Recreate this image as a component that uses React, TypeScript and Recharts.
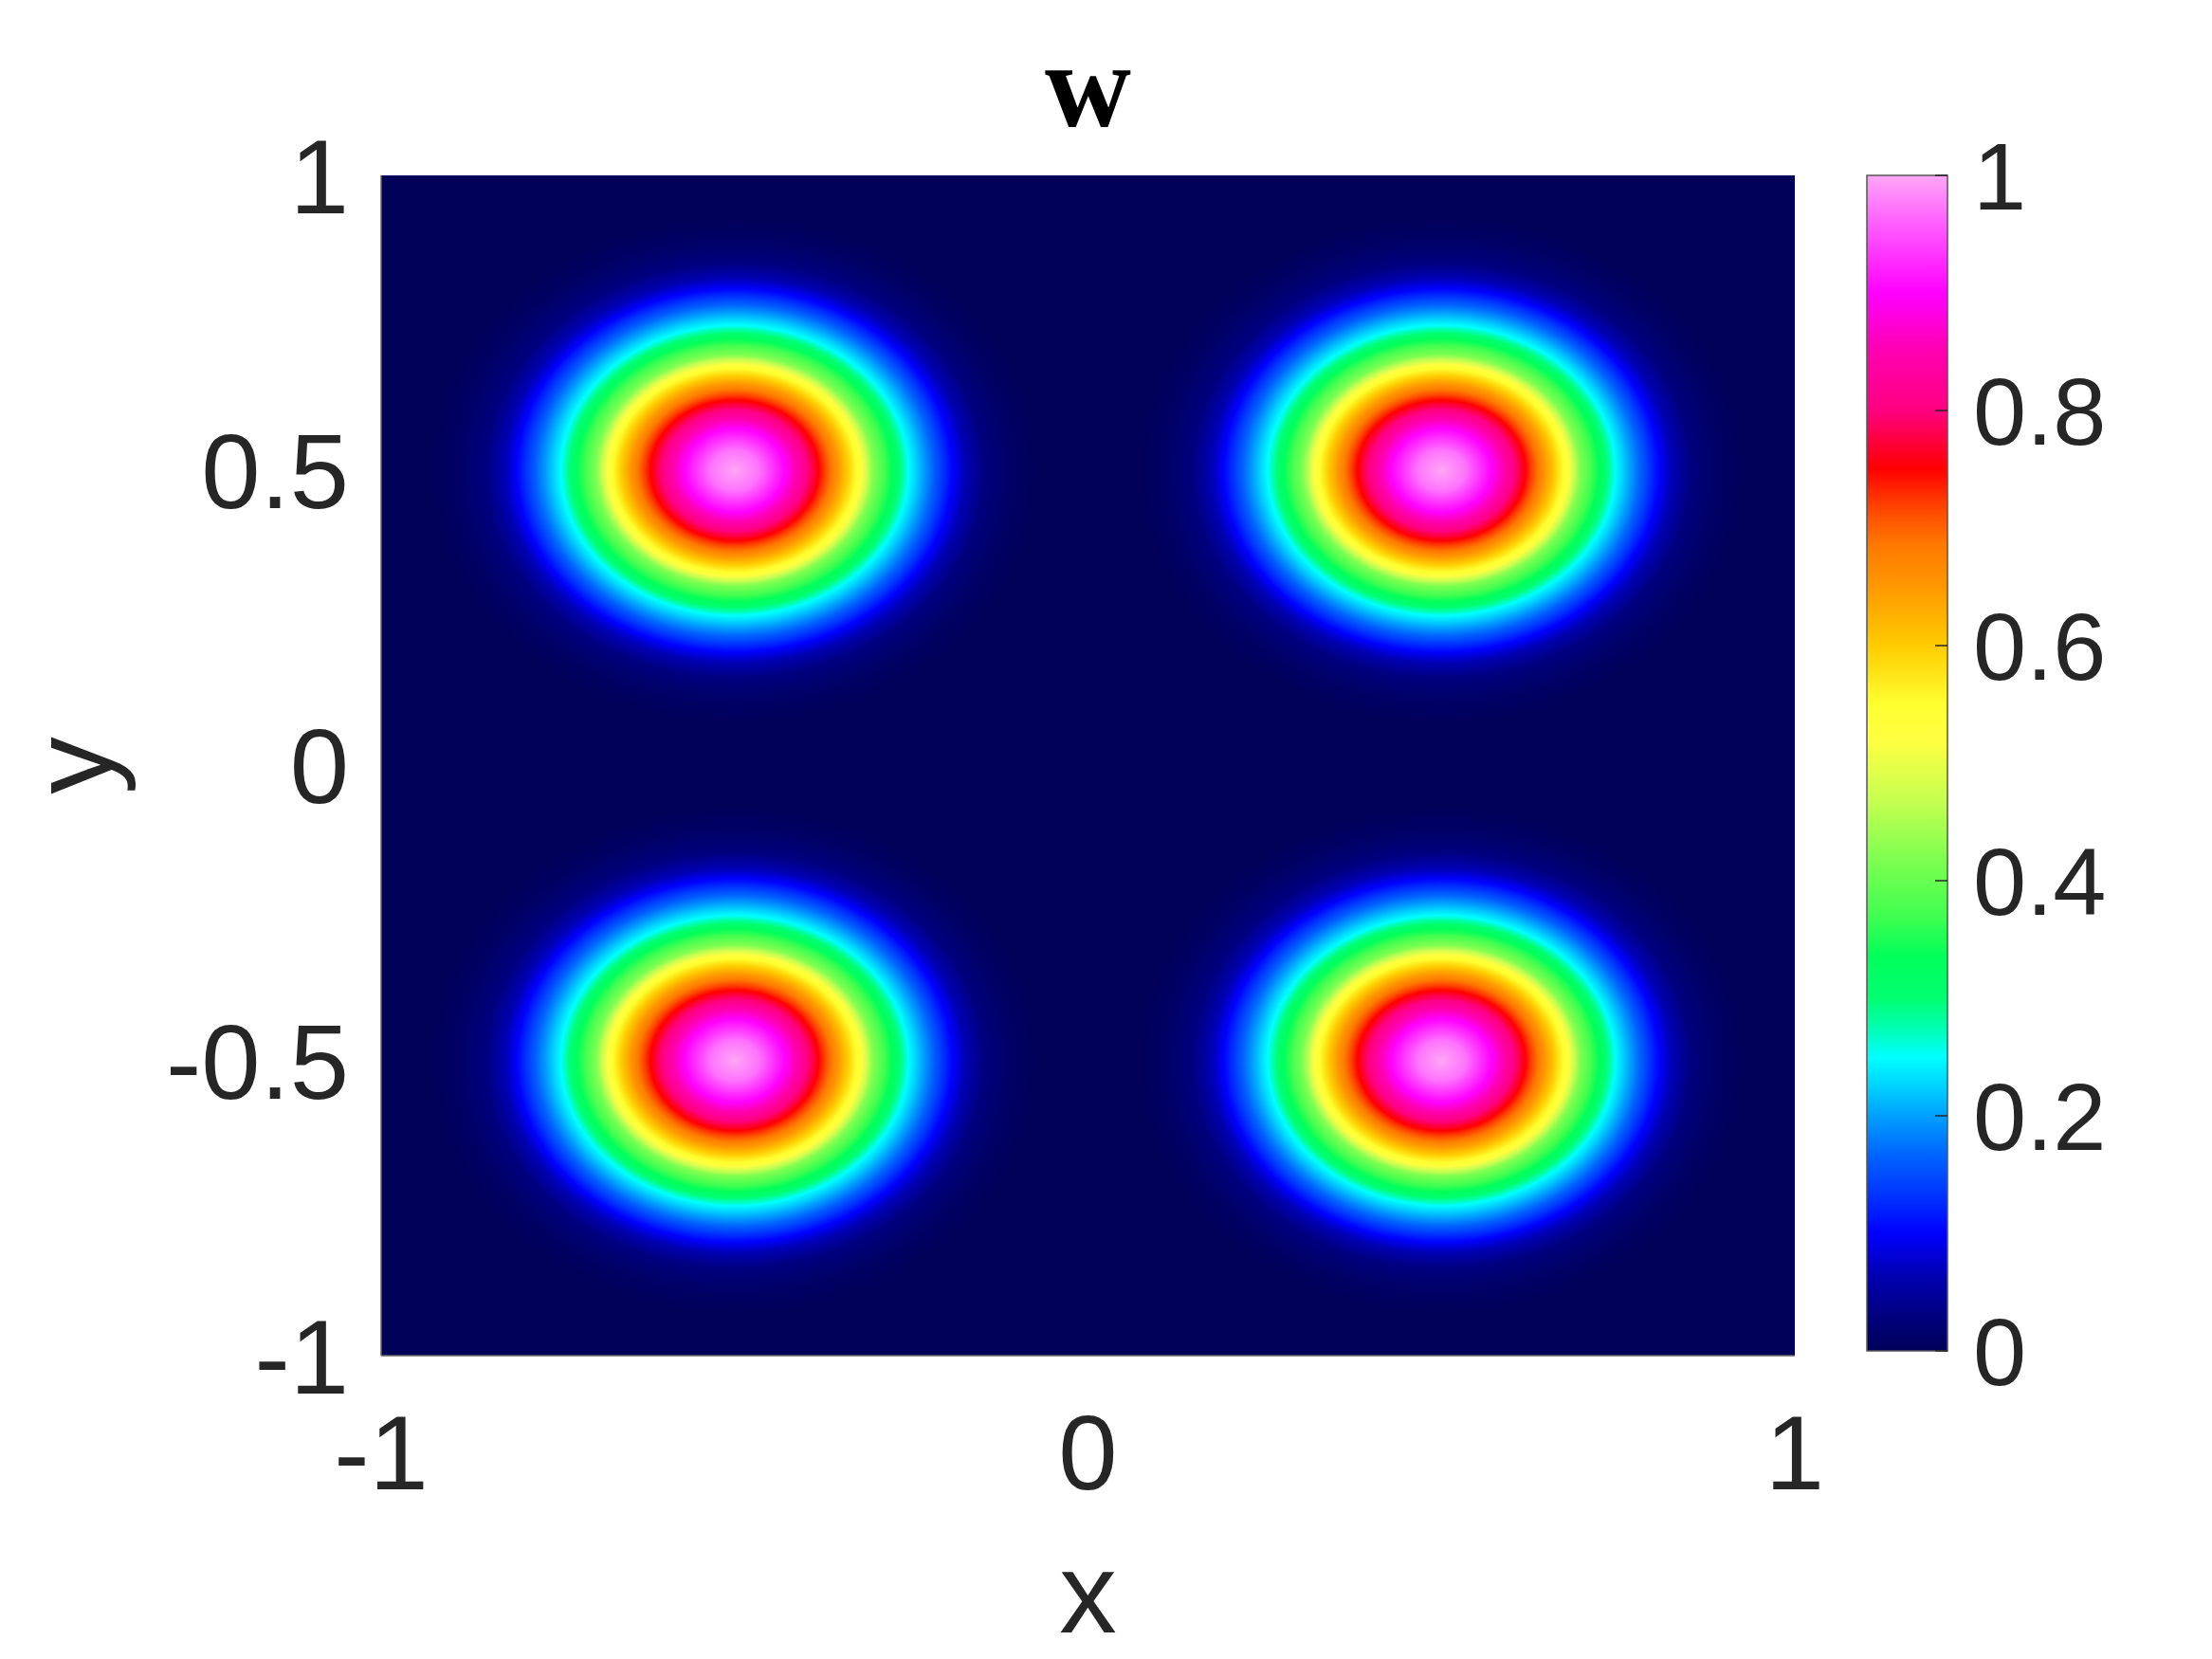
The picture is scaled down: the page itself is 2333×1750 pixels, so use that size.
import React from 'react';
import { ScatterChart, Scatter, XAxis, YAxis, ReferenceArea, BarChart, Bar } from 'recharts';

// ---- data ----
const xTicks = [-1, 0, 1];
const yTicks = [-1, -0.5, 0, 0.5, 1];
const cbarTicks = [0, 0.2, 0.4, 0.6, 0.8, 1];

// blob centres and peak values of w
const blobX = [-0.5, 0.5, -0.5, 0.5];
const blobY = [0.5, 0.5, -0.5, -0.5];
const blobPeak = [1, 1, 1, 1];

// radial profile of one blob (distance from centre in data units -> w / peak)
const profileR = [0, 0.035, 0.071, 0.097, 0.119, 0.147, 0.178, 0.196, 0.223, 0.246, 0.267, 0.281, 0.308, 0.326, 0.352, 0.39, 0.43];
const profileW = [1.0, 0.97, 0.9, 0.82, 0.75, 0.65, 0.53, 0.42, 0.335, 0.25, 0.2, 0.165, 0.1, 0.065, 0.03, 0.01, 0];

// colour scale (value -> colour)
const cmapV = [0, 0.03, 0.065, 0.1, 0.13, 0.165, 0.2, 0.225, 0.25, 0.275, 0.3, 0.335, 0.37, 0.42, 0.47, 0.52, 0.55, 0.6, 0.65, 0.685, 0.72, 0.75, 0.8, 0.85, 0.9, 0.96, 1];
const cmapC = ['#000059', '#000080', '#0000B4', '#0000FF', '#0030FF', '#0062FF', '#00A0FF', '#00D2FF', '#00FFFF', '#00FFB0', '#00FF70', '#00FF5A', '#40FF50', '#80FF50', '#C8FF50', '#FFFF40', '#FFFF30', '#FFCC00', '#FF9800', '#FF7A00', '#FF4000', '#FF0000', '#FF0080', '#FF00B0', '#FF00FF', '#FF60FF', '#FFA6F6'];

const cbarData = [{ name: 'w', top: 1 }];

// ---- helpers ----
const FONT = "'Liberation Sans', Arial, Helvetica, sans-serif";
const TXT = '#262626';
const RMAX = profileR[profileR.length - 1];

const hexToRgb = (h: string) => [parseInt(h.slice(1, 3), 16), parseInt(h.slice(3, 5), 16), parseInt(h.slice(5, 7), 16)];
function colorAt(v: number): string {
  if (v <= cmapV[0]) return cmapC[0];
  for (let i = 0; i < cmapV.length - 1; i++) {
    if (v <= cmapV[i + 1]) {
      const t = (v - cmapV[i]) / (cmapV[i + 1] - cmapV[i]);
      const a = hexToRgb(cmapC[i]);
      const b = hexToRgb(cmapC[i + 1]);
      const c = a.map((ai, k) => Math.round(ai + t * (b[k] - ai)));
      return `rgb(${c[0]},${c[1]},${c[2]})`;
    }
  }
  return cmapC[cmapC.length - 1];
}
function radiusAt(w: number): number {
  if (w >= profileW[0]) return 0;
  for (let i = 0; i < profileW.length - 1; i++) {
    const a = profileW[i];
    const b = profileW[i + 1];
    if (w <= a && w >= b) {
      const t = a === b ? 0 : (a - w) / (a - b);
      return profileR[i] + t * (profileR[i + 1] - profileR[i]);
    }
  }
  return RMAX;
}
function blobStops(peak: number) {
  const stops: { o: number; c: string }[] = [];
  cmapV.forEach((v, k) => {
    if (v <= peak) stops.push({ o: radiusAt(v / peak) / RMAX, c: cmapC[k] });
  });
  profileR.forEach((r, k) => stops.push({ o: r / RMAX, c: colorAt(profileW[k] * peak) }));
  stops.sort((a, b) => a.o - b.o);
  return stops;
}

const blobData = blobX.map((x, i) => ({ x, y: blobY[i], w: blobPeak[i] }));

const XLabel = (props: any) => {
  const vb = props.viewBox;
  return (
    <text x={vb.x + vb.width / 2} y={vb.y + 292} textAnchor="middle" fontSize={121} fill={TXT} fontFamily={FONT}>
      x
    </text>
  );
};
const YLabel = (props: any) => {
  const vb = props.viewBox;
  const bx = vb.x + 16;
  const cy = vb.y + vb.height / 2;
  return (
    <text x={bx} y={cy} transform={`rotate(-90, ${bx}, ${cy})`} textAnchor="middle" fontSize={121} fill={TXT} fontFamily={FONT}>
      y
    </text>
  );
};

const CbarTick = (props: any) => {
  const { x, y, payload } = props;
  return (
    <g>
      <line x1={x - 27 - 13} x2={x - 27} y1={y} y2={y} stroke={TXT} strokeWidth={1.5} />
      <text x={x} y={y} dy="0.355em" textAnchor="start" fontSize={101} fill={TXT} fontFamily={FONT}>
        {String(payload.value)}
      </text>
    </g>
  );
};

export default function App() {
  return (
    <div style={{ position: 'absolute', left: 0, top: 0, width: 2333, height: 1750, background: '#fff', overflow: 'hidden' }}>
      <svg width={2333} height={200} style={{ position: 'absolute', left: 0, top: 0 }}>
        <text x={1147.5} y={133} textAnchor="middle" fontSize={126} fontWeight="bold" fill="#000" fontFamily="'Liberation Serif', 'Times New Roman', serif">
          w
        </text>
      </svg>
      <div style={{ position: 'absolute', left: 0, top: 0 }}>
        <ScatterChart width={1960} height={1750} margin={{ top: 185, right: 67, bottom: 120, left: 102 }}>
          <defs>
            {blobPeak.map((p, i) => (
              <radialGradient key={i} id={`blob-${i}`} cx="50%" cy="50%" r="50%">
                {blobStops(p).map((s, k) => (
                  <stop key={k} offset={s.o} stopColor={s.c} />
                ))}
              </radialGradient>
            ))}
          </defs>
          <ReferenceArea x1={-1} x2={1} y1={-1} y2={1} fill={cmapC[0]} fillOpacity={1} stroke="none" />
          {blobData.map((b, i) => (
            <ReferenceArea
              key={i}
              x1={b.x - RMAX}
              x2={b.x + RMAX}
              y1={b.y - RMAX}
              y2={b.y + RMAX}
              shape={(p: any) => (
                <ellipse
                  cx={p.x + p.width / 2}
                  cy={p.y + p.height / 2}
                  rx={Math.abs(p.width) / 2}
                  ry={Math.abs(p.height) / 2}
                  fill={`url(#blob-${i})`}
                />
              )}
            />
          ))}
          <Scatter data={blobData} isAnimationActive={false} shape={() => <g />} />
          <XAxis
            type="number"
            dataKey="x"
            domain={[-1, 1]}
            ticks={xTicks}
            interval={0}
            height={200}
            tickSize={0}
            tickMargin={61}
            tickLine={false}
            axisLine={{ stroke: '#666', strokeWidth: 1.5 }}
            tick={{ fontSize: 112, fill: TXT, fontFamily: FONT }}
            label={{ content: XLabel }}
          />
          <YAxis
            type="number"
            dataKey="y"
            domain={[-1, 1]}
            ticks={yTicks}
            interval={0}
            width={300}
            tickSize={0}
            tickMargin={34}
            tickLine={false}
            axisLine={{ stroke: '#666', strokeWidth: 1.5 }}
            tick={{ fontSize: 112, fill: TXT, fontFamily: FONT }}
            label={{ content: YLabel }}
          />
        </ScatterChart>
      </div>
      <div style={{ position: 'absolute', left: 1900, top: 0 }}>
        <BarChart width={433} height={1750} data={cbarData} margin={{ top: 185, right: 129, bottom: 325, left: 69 }} barCategoryGap={0}>
          <defs>
            <linearGradient id="cbar" x1="0" y1="1" x2="0" y2="0">
              {cmapV.map((v, k) => (
                <stop key={k} offset={v} stopColor={cmapC[k]} />
              ))}
            </linearGradient>
          </defs>
          <XAxis dataKey="name" hide />
          <Bar dataKey="top" fill="url(#cbar)" stroke="#555" strokeWidth={1.5} isAnimationActive={false} />
          <YAxis
            orientation="right"
            type="number"
            domain={[0, 1]}
            ticks={cbarTicks}
            interval={0}
            width={150}
            tickSize={0}
            tickMargin={27}
            tickLine={false}
            axisLine={false}
            tick={<CbarTick />}
          />
        </BarChart>
      </div>
    </div>
  );
}
